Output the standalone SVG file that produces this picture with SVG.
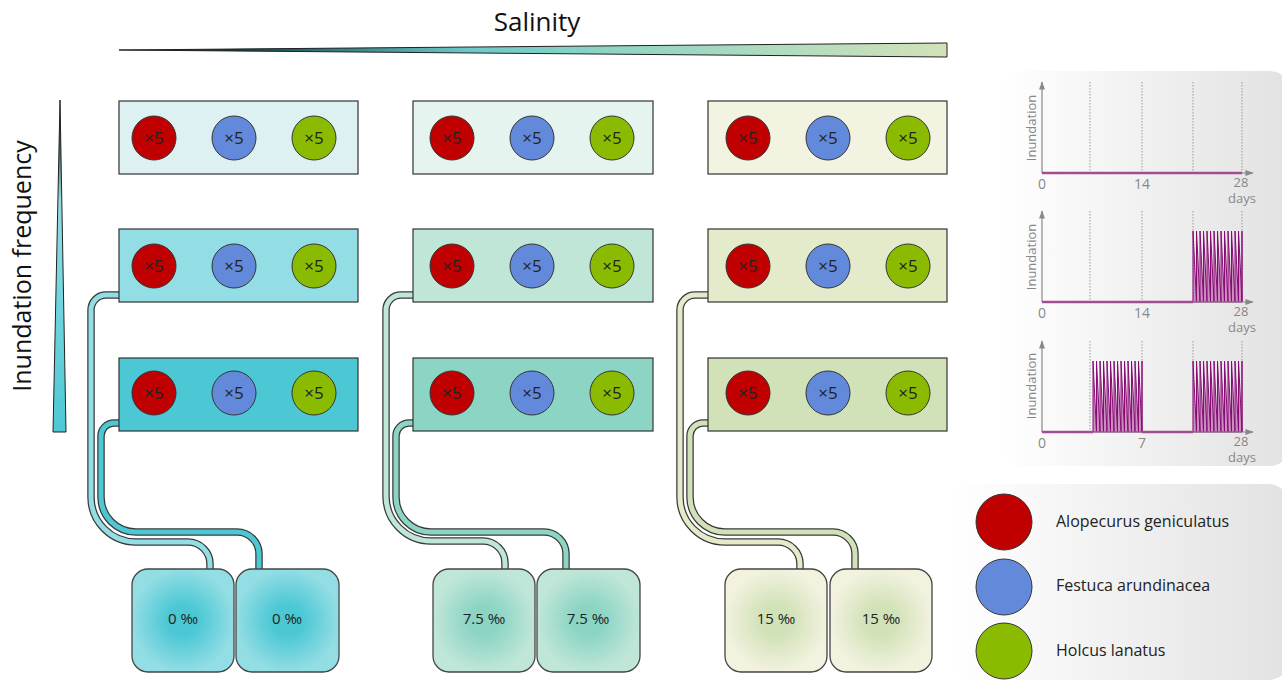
<svg xmlns="http://www.w3.org/2000/svg" xmlns:xlink="http://www.w3.org/1999/xlink" width="1282" height="682" viewBox="0 0 1282 682">
<defs>
<style>
text{font-family:"Open Sans","Liberation Sans",sans-serif;}
.tray{stroke:#333;stroke-width:1.2;}
.c{stroke:#333;stroke-width:1;}
.red{fill:#c00000;}.blue{fill:#6389db;}.green{fill:#8bbb00;}
.x5{font-size:17px;fill:#222;text-anchor:middle;}
.tank{stroke:#444;stroke-width:1.3;}
.tl{font-size:15px;fill:#222;text-anchor:middle;}
.pipeo{fill:none;stroke:#3a3a3a;stroke-width:7.5;}
.pipei{fill:none;stroke-width:5;}
.ax{stroke:#888;stroke-width:1.2;fill:none;}
.grid{stroke:#999;stroke-width:1;stroke-dasharray:1.5,1.5;}
.cl{font-size:14px;fill:#888;text-anchor:middle;}
.dl{font-size:13px;fill:#888;text-anchor:middle;}
.yl{font-size:13px;fill:#888;text-anchor:middle;}
.base{stroke:#a24d93;stroke-width:2.5;}
.wave{fill:#c98dbf;stroke:#870c74;stroke-width:1;}
.leg{font-size:16px;fill:#222;}
</style>
<marker id="arr" viewBox="0 0 10 10" refX="9" refY="5" markerWidth="7" markerHeight="7" orient="auto"><path d="M0,1.5 L10,5 L0,8.5 Z" fill="#888"/></marker>
<linearGradient id="salg" x1="0" y1="0" x2="1" y2="0"><stop offset="0" stop-color="#000"/><stop offset="0.2" stop-color="#1e5f66"/><stop offset="0.42" stop-color="#6cc9c9"/><stop offset="0.6" stop-color="#8fd4c4"/><stop offset="1" stop-color="#d2e2b8"/></linearGradient>
<linearGradient id="inug" x1="0" y1="0" x2="0" y2="1"><stop offset="0" stop-color="#000"/><stop offset="0.3" stop-color="#93dde4"/><stop offset="1" stop-color="#4cc8d5"/></linearGradient>
<linearGradient id="pang" x1="0" y1="0" x2="1" y2="0"><stop offset="0" stop-color="#fff"/><stop offset="1" stop-color="#e2e2e2"/></linearGradient>
<radialGradient id="t1"><stop offset="0.3" stop-color="#4cc8d5"/><stop offset="1" stop-color="#93dde4"/></radialGradient>
<radialGradient id="t2"><stop offset="0.3" stop-color="#8cd5c5"/><stop offset="1" stop-color="#c0e6d8"/></radialGradient>
<radialGradient id="t3"><stop offset="0.3" stop-color="#d2e2b8"/><stop offset="1" stop-color="#f2f2df"/></radialGradient>
<path id="wave" d="M0,0 L0,-71 L3.5,0 L3.5,-71 L7,0 L7,-71 L10.5,0 L10.5,-71 L14,0 L14,-71 L17.5,0 L17.5,-71 L21,0 L21,-71 L24.5,0 L24.5,-71 L28,0 L28,-71 L31.5,0 L31.5,-71 L35,0 L35,-71 L38.5,0 L38.5,-71 L42,0 L42,-71 L45.5,0 L45.5,-71 L49,0 L49,-71 L49,0 Z"/>
</defs>
<rect width="1282" height="682" fill="#fff"/>

<g id="salinity">
<text x="537" y="31" font-size="26" fill="#111" text-anchor="middle">Salinity</text>
<polygon points="119,50 947,43 947,57" fill="url(#salg)" stroke="#222" stroke-width="1"/>
</g>
<g id="inundation">
<text transform="translate(31,266) rotate(-90)" font-size="25" fill="#111" text-anchor="middle">Inundation frequency</text>
<polygon points="60,100 53,432 66,432" fill="url(#inug)" stroke="#222" stroke-width="1"/>
</g>

<g id="connectors">
<path class="pipeo" d="M121,295 H106 A15,15 0 0 0 91,310 V497 A45,45 0 0 0 136,542 H188 A22,22 0 0 1 210,564 V571"/>
<path class="pipei" stroke="#93dde4" d="M121,295 H106 A15,15 0 0 0 91,310 V497 A45,45 0 0 0 136,542 H188 A22,22 0 0 1 210,564 V571"/>
<path class="pipeo" d="M121,423 H114 A13,13 0 0 0 101,436 V497 A35,35 0 0 0 136,532 H237 A22,22 0 0 1 259,554 V571"/>
<path class="pipei" stroke="#4cc8d5" d="M121,423 H114 A13,13 0 0 0 101,436 V497 A35,35 0 0 0 136,532 H237 A22,22 0 0 1 259,554 V571"/>

<path class="pipeo" d="M415,295 H401 A15,15 0 0 0 386,310 V496 A45,45 0 0 0 431,541 H483 A22,22 0 0 1 505,563 V571"/>
<path class="pipei" stroke="#c0e6d8" d="M415,295 H401 A15,15 0 0 0 386,310 V496 A45,45 0 0 0 431,541 H483 A22,22 0 0 1 505,563 V571"/>
<path class="pipeo" d="M415,423 H409 A13,13 0 0 0 396,436 V497 A35,35 0 0 0 431,532 H544 A22,22 0 0 1 566,554 V571"/>
<path class="pipei" stroke="#8cd5c5" d="M415,423 H409 A13,13 0 0 0 396,436 V497 A35,35 0 0 0 431,532 H544 A22,22 0 0 1 566,554 V571"/>

<path class="pipeo" d="M710,295 H695 A15,15 0 0 0 680,310 V497 A45,45 0 0 0 725,542 H778 A22,22 0 0 1 800,564 V571"/>
<path class="pipei" stroke="#e3ebca" d="M710,295 H695 A15,15 0 0 0 680,310 V497 A45,45 0 0 0 725,542 H778 A22,22 0 0 1 800,564 V571"/>
<path class="pipeo" d="M710,423 H703 A13,13 0 0 0 690,436 V497 A35,35 0 0 0 725,532 H833 A22,22 0 0 1 855,554 V571"/>
<path class="pipei" stroke="#d2e2b8" d="M710,423 H703 A13,13 0 0 0 690,436 V497 A35,35 0 0 0 725,532 H833 A22,22 0 0 1 855,554 V571"/>
</g>

<g id="tray-1-1"><rect class="tray" x="119" y="101" width="239" height="73" fill="#ddf1f3"/>
<circle class="c red" cx="154" cy="138" r="22"/><circle class="c blue" cx="234" cy="138" r="22"/><circle class="c green" cx="314" cy="138" r="22"/>
<text class="x5" x="154" y="144">×5</text><text class="x5" x="234" y="144">×5</text><text class="x5" x="314" y="144">×5</text></g>
<g id="tray-1-2"><rect class="tray" x="119" y="229" width="239" height="73" fill="#93dde4"/>
<circle class="c red" cx="154" cy="266" r="22"/><circle class="c blue" cx="234" cy="266" r="22"/><circle class="c green" cx="314" cy="266" r="22"/>
<text class="x5" x="154" y="272">×5</text><text class="x5" x="234" y="272">×5</text><text class="x5" x="314" y="272">×5</text></g>
<g id="tray-1-3"><rect class="tray" x="119" y="358" width="239" height="73" fill="#4cc8d5"/>
<circle class="c red" cx="154" cy="393" r="22"/><circle class="c blue" cx="234" cy="393" r="22"/><circle class="c green" cx="314" cy="393" r="22"/>
<text class="x5" x="154" y="399">×5</text><text class="x5" x="234" y="399">×5</text><text class="x5" x="314" y="399">×5</text></g>

<g id="tray-2-1"><rect class="tray" x="413" y="101" width="240" height="73" fill="#e6f4ef"/>
<circle class="c red" cx="452" cy="138" r="22"/><circle class="c blue" cx="532" cy="138" r="22"/><circle class="c green" cx="612" cy="138" r="22"/>
<text class="x5" x="452" y="144">×5</text><text class="x5" x="532" y="144">×5</text><text class="x5" x="612" y="144">×5</text></g>
<g id="tray-2-2"><rect class="tray" x="413" y="229" width="240" height="73" fill="#c0e6d8"/>
<circle class="c red" cx="452" cy="266" r="22"/><circle class="c blue" cx="532" cy="266" r="22"/><circle class="c green" cx="612" cy="266" r="22"/>
<text class="x5" x="452" y="272">×5</text><text class="x5" x="532" y="272">×5</text><text class="x5" x="612" y="272">×5</text></g>
<g id="tray-2-3"><rect class="tray" x="413" y="358" width="240" height="73" fill="#8cd5c5"/>
<circle class="c red" cx="452" cy="393" r="22"/><circle class="c blue" cx="532" cy="393" r="22"/><circle class="c green" cx="612" cy="393" r="22"/>
<text class="x5" x="452" y="399">×5</text><text class="x5" x="532" y="399">×5</text><text class="x5" x="612" y="399">×5</text></g>

<g id="tray-3-1"><rect class="tray" x="708" y="101" width="239" height="73" fill="#f3f3e1"/>
<circle class="c red" cx="748" cy="138" r="22"/><circle class="c blue" cx="828" cy="138" r="22"/><circle class="c green" cx="908" cy="138" r="22"/>
<text class="x5" x="748" y="144">×5</text><text class="x5" x="828" y="144">×5</text><text class="x5" x="908" y="144">×5</text></g>
<g id="tray-3-2"><rect class="tray" x="708" y="229" width="239" height="73" fill="#e3ebca"/>
<circle class="c red" cx="748" cy="266" r="22"/><circle class="c blue" cx="828" cy="266" r="22"/><circle class="c green" cx="908" cy="266" r="22"/>
<text class="x5" x="748" y="272">×5</text><text class="x5" x="828" y="272">×5</text><text class="x5" x="908" y="272">×5</text></g>
<g id="tray-3-3"><rect class="tray" x="708" y="358" width="239" height="73" fill="#d2e2b8"/>
<circle class="c red" cx="748" cy="393" r="22"/><circle class="c blue" cx="828" cy="393" r="22"/><circle class="c green" cx="908" cy="393" r="22"/>
<text class="x5" x="748" y="399">×5</text><text class="x5" x="828" y="399">×5</text><text class="x5" x="908" y="399">×5</text></g>

<g id="tank-1a"><rect class="tank" x="132" y="569" width="102" height="103" rx="16" fill="url(#t1)"/><text class="tl" x="183" y="624">0 ‰</text></g>
<g id="tank-1b"><rect class="tank" x="236" y="569" width="103" height="103" rx="16" fill="url(#t1)"/><text class="tl" x="287" y="624">0 ‰</text></g>
<g id="tank-2a"><rect class="tank" x="433" y="569" width="102" height="103" rx="16" fill="url(#t2)"/><text class="tl" x="484" y="624">7.5 ‰</text></g>
<g id="tank-2b"><rect class="tank" x="537" y="569" width="103" height="103" rx="16" fill="url(#t2)"/><text class="tl" x="588" y="624">7.5 ‰</text></g>
<g id="tank-3a"><rect class="tank" x="725" y="569" width="102" height="103" rx="16" fill="url(#t3)"/><text class="tl" x="776" y="624">15 ‰</text></g>
<g id="tank-3b"><rect class="tank" x="830" y="569" width="102" height="103" rx="16" fill="url(#t3)"/><text class="tl" x="881" y="624">15 ‰</text></g>

<g id="charts">
<rect x="1000" y="71" width="290" height="395" rx="20" fill="url(#pang)"/>
<g id="chart-1">
<line class="grid" x1="1090" y1="82" x2="1090" y2="173"/><line class="grid" x1="1142" y1="82" x2="1142" y2="173"/><line class="grid" x1="1193" y1="82" x2="1193" y2="173"/><line class="grid" x1="1242" y1="82" x2="1242" y2="173"/>
<line class="ax" x1="1042" y1="173" x2="1042" y2="82" marker-end="url(#arr)"/>
<line class="ax" x1="1042" y1="173" x2="1253" y2="173" marker-end="url(#arr)"/>
<line class="base" x1="1042" y1="173" x2="1242" y2="173"/>
<text class="yl" transform="translate(1036,128) rotate(-90)">Inundation</text>
<text class="cl" x="1042" y="189">0</text><text class="cl" x="1142" y="189">14</text><text class="dl" x="1241" y="187">28</text><text class="dl" x="1242" y="203">days</text>
</g>
<g id="chart-2">
<line class="grid" x1="1090" y1="211" x2="1090" y2="302"/><line class="grid" x1="1142" y1="211" x2="1142" y2="302"/><line class="grid" x1="1193" y1="211" x2="1193" y2="302"/><line class="grid" x1="1242" y1="211" x2="1242" y2="302"/>
<use href="#wave" class="wave" x="1193" y="302"/>
<line class="ax" x1="1042" y1="302" x2="1042" y2="211" marker-end="url(#arr)"/>
<line class="ax" x1="1042" y1="302" x2="1253" y2="302" marker-end="url(#arr)"/>
<line class="base" x1="1042" y1="302" x2="1193" y2="302"/>
<text class="yl" transform="translate(1036,257) rotate(-90)">Inundation</text>
<text class="cl" x="1042" y="318">0</text><text class="cl" x="1142" y="318">14</text><text class="dl" x="1241" y="316">28</text><text class="dl" x="1242" y="332">days</text>
</g>
<g id="chart-3">
<line class="grid" x1="1090" y1="341" x2="1090" y2="432"/><line class="grid" x1="1142" y1="341" x2="1142" y2="432"/><line class="grid" x1="1193" y1="341" x2="1193" y2="432"/><line class="grid" x1="1242" y1="341" x2="1242" y2="432"/>
<use href="#wave" class="wave" x="1093" y="432"/>
<use href="#wave" class="wave" x="1193" y="432"/>
<line class="ax" x1="1042" y1="432" x2="1042" y2="341" marker-end="url(#arr)"/>
<line class="ax" x1="1042" y1="432" x2="1253" y2="432" marker-end="url(#arr)"/>
<line class="base" x1="1042" y1="432" x2="1093" y2="432"/>
<line class="base" x1="1142" y1="432" x2="1193" y2="432"/>
<text class="yl" transform="translate(1036,386) rotate(-90)">Inundation</text>
<text class="cl" x="1042" y="448">0</text><text class="cl" x="1142" y="448">7</text><text class="dl" x="1241" y="446">28</text><text class="dl" x="1242" y="462">days</text>
</g>
</g>

<g id="legend">
<rect x="950" y="484" width="340" height="196" rx="22" fill="url(#pang)"/>
<circle class="c red" cx="1004" cy="522" r="28"/>
<circle class="c blue" cx="1004" cy="587" r="28"/>
<circle class="c green" cx="1004" cy="651" r="28"/>
<text class="leg" x="1056" y="527">Alopecurus geniculatus</text>
<text class="leg" x="1056" y="591">Festuca arundinacea</text>
<text class="leg" x="1056" y="656">Holcus lanatus</text>
</g>
</svg>
